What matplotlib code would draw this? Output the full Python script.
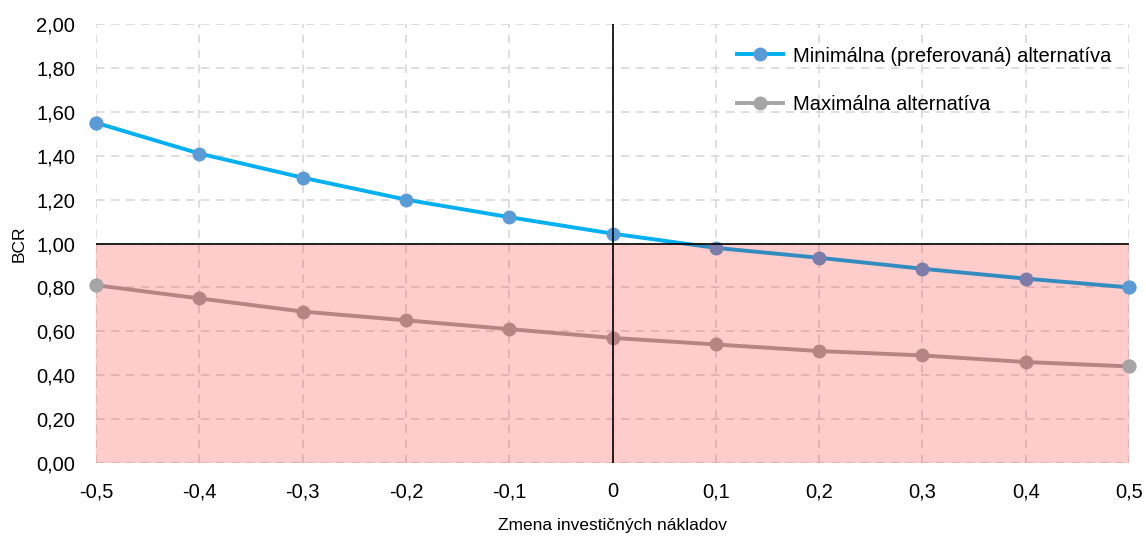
import numpy as np
import matplotlib
matplotlib.use("Agg")
import matplotlib.pyplot as plt
from matplotlib.patches import Rectangle

plt.rcParams['font.family'] = ['Liberation Sans', 'DejaVu Sans']

x = [-0.5, -0.4, -0.3, -0.2, -0.1, 0.0, 0.1, 0.2, 0.3, 0.4, 0.5]
bcr_min = [1.55, 1.41, 1.30, 1.20, 1.12, 1.045, 0.98, 0.935, 0.885, 0.84, 0.80]
bcr_max = [0.81, 0.75, 0.69, 0.65, 0.61, 0.57, 0.54, 0.51, 0.49, 0.46, 0.44]
lbl_min = "Minimálna (preferovaná) alternatíva"
lbl_max = "Maximálna alternatíva"
threshold = 1.0

fig = plt.figure(figsize=(11.46, 5.36), dpi=100)
ax = fig.add_axes([96/1146, 1-463/536, (1129-96)/1146, (463-24)/536])

ax.plot(x, bcr_min, color='#00B0F0', lw=2.8, marker='o', ms=9,
        mfc='#5B9BD5', mec='#5B9BD5', label=lbl_min, zorder=3, clip_on=False)
ax.plot(x, bcr_max, color='#A5A5A5', lw=2.8, marker='o', ms=9,
        mfc='#A5A5A5', mec='#A5A5A5', label=lbl_max, zorder=3, clip_on=False)

# shaded area below BCR = 1, drawn over the lines
ax.add_patch(Rectangle((x[0], 0), x[-1]-x[0], threshold, facecolor='red',
                       alpha=0.2, edgecolor='none', zorder=4))
# end markers stay on top
for ys, c in ((bcr_min, '#5B9BD5'), (bcr_max, '#A5A5A5')):
    ax.plot([x[0], x[-1]], [ys[0], ys[-1]], ls='none', marker='o', ms=9,
            mfc=c, mec=c, zorder=5, clip_on=False)

ax.axhline(threshold, color='black', lw=1.2, zorder=5)
ax.axvline(0, color='black', lw=1.2, zorder=5)

ax.set_xlim(-0.5, 0.5)
ax.set_ylim(0, 2.0)
ax.set_xticks(x)
ax.set_xticklabels([('%g' % v).replace('.', ',') for v in x])
yt = np.arange(0, 2.01, 0.2)
ax.set_yticks(yt)
ax.set_yticklabels([('%.2f' % v).replace('.', ',') for v in yt])
ax.tick_params(length=0, labelsize=14.5)
ax.tick_params(axis='y', pad=15)
ax.tick_params(axis='x', pad=14)
ax.grid(True, color='#D9D9D9', ls=(0, (5, 4)), lw=1.2)
ax.set_axisbelow(True)
for s in ax.spines.values():
    s.set_visible(False)

ax.set_xlabel("Zmena investičných nákladov", fontsize=12.5, labelpad=12)
ax.set_ylabel("BCR", fontsize=12.5, labelpad=7)

leg = ax.legend(loc='upper right', bbox_to_anchor=(1.0, 0.99), frameon=False,
                fontsize=14.5, labelspacing=1.45, handlelength=2.3, handletextpad=0.45)

fig.savefig("out.png", dpi=100)
